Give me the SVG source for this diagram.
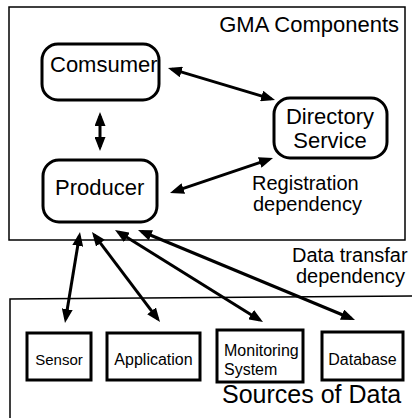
<svg xmlns="http://www.w3.org/2000/svg" width="412" height="418" viewBox="0 0 412 418">
<defs>
<marker id="ah" markerWidth="14" markerHeight="11" refX="10" refY="5.5" orient="auto-start-reverse" markerUnits="userSpaceOnUse">
<path d="M0,0 L14,5.5 L0,11 z" fill="#000"/>
</marker>
<style>
text{font-family:"Liberation Sans",Arial,sans-serif;fill:#000}
.frame{fill:none;stroke:#000;stroke-width:1.5}
.rn{fill:#fff;stroke:#000;stroke-width:3}
.sq{fill:#fff;stroke:#000;stroke-width:3}
.c{stroke:#000;stroke-width:3;fill:none;marker-start:url(#ah);marker-end:url(#ah)}
.big{font-size:22px}
.lbl{font-size:20px}
.sm{font-size:16px}
</style>
</defs>
<rect width="412" height="418" fill="#fff"/>
<g id="gma-components">
<rect class="frame" x="9" y="7" width="396" height="233"/>
<text class="big" x="399" y="32" text-anchor="end">GMA Components</text>
</g>
<g id="sources-of-data">
<path class="frame" d="M10,420 L10,299 L414,296"/>
<text x="222" y="403" style="font-size:25px">Sources of Data</text>
</g>
<g id="consumer">
<rect class="rn" x="42" y="44" width="117" height="56" rx="16"/>
<text class="big" x="50" y="72">Comsumer</text>
</g>
<g id="directory-service">
<rect class="rn" x="274" y="98" width="113" height="60" rx="16"/>
<text class="big" x="330" y="124" text-anchor="middle">Directory</text>
<text class="big" x="330" y="148" text-anchor="middle">Service</text>
</g>
<g id="producer">
<rect class="rn" x="43" y="160" width="114" height="62" rx="16"/>
<text class="big" x="55" y="195">Producer</text>
</g>
<g id="sensor">
<rect class="sq" x="27" y="333" width="64" height="47"/>
<text x="59" y="365" text-anchor="middle" style="font-size:15px">Sensor</text>
</g>
<g id="application">
<rect class="sq" x="107" y="333" width="93" height="47"/>
<text class="sm" x="153.5" y="365" text-anchor="middle">Application</text>
</g>
<g id="monitoring-system">
<rect class="sq" x="217" y="330" width="86" height="52"/>
<text class="sm" x="224" y="356">Monitoring</text>
<text class="sm" x="224" y="375">System</text>
</g>
<g id="database">
<rect class="sq" x="322" y="332" width="81" height="48"/>
<text class="sm" x="362.5" y="365" text-anchor="middle">Database</text>
</g>
<g id="connectors">
<line class="c" x1="171.8" y1="69.1" x2="271.2" y2="98.9"/>
<line class="c" x1="100" y1="116" x2="100" y2="147"/>
<line class="c" x1="173.8" y1="191.7" x2="269.2" y2="159.3"/>
<line class="c" x1="79.35" y1="235.95" x2="65.65" y2="319.05"/>
<line class="c" x1="94.4" y1="235.2" x2="157.6" y2="318.8"/>
<line class="c" x1="118.4" y1="232.1" x2="259.6" y2="319.9"/>
<line class="c" x1="141.7" y1="231.5" x2="351.3" y2="318.5"/>
</g>
<g id="labels">
<text class="lbl" x="252" y="190">Registration</text>
<text class="lbl" x="253" y="211">dependency</text>
<text class="lbl" x="292" y="262">Data transfar</text>
<text class="lbl" x="296" y="283">dependency</text>
</g>
</svg>
